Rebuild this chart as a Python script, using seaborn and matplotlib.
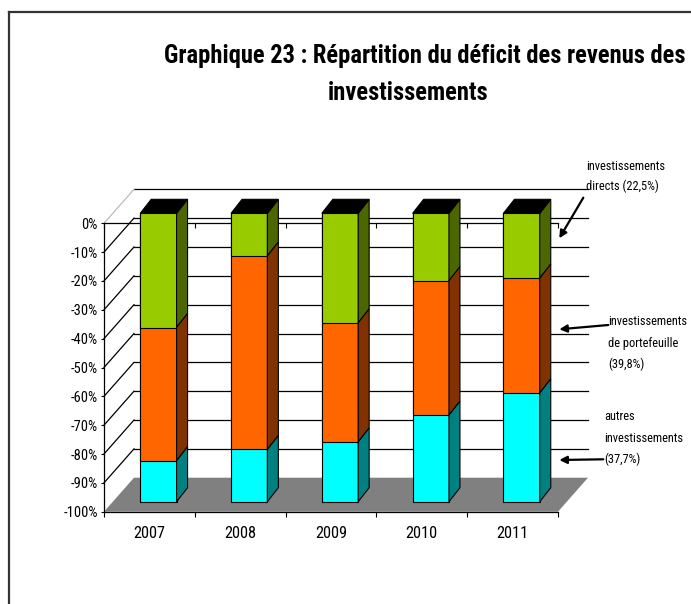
import numpy as np
import pandas as pd
import matplotlib
matplotlib.use('Agg')
import matplotlib.pyplot as plt
import seaborn as sns
from matplotlib import font_manager
from matplotlib.lines import Line2D, TICKDOWN
from matplotlib.patches import Polygon
from matplotlib.transforms import ScaledTranslation, IdentityTransform

# data (shares of the deficit, %)
years = ['2007', '2008', '2009', '2010', '2011']
directs = [39.6, 14.8, 38.0, 23.4, 22.5]
portefeuille = [46.2, 67.1, 41.3, 46.6, 39.8]
autres = [14.2, 18.1, 20.7, 30.0, 37.7]
yticks = list(range(-100, 1, 10))

title_lines = ['Graphique 23 : Répartition du déficit des revenus des', 'investissements']
notes = [
    ['investissements', 'directs (22,5%)'],
    ['investissements', 'de portefeuille', '(39,8%)'],
    ['autres', 'investissements', '(37,7%)'],
]

# pick a narrow sans font (Arial Narrow look) that has a static bold face
prefs = ['Liberation Sans Narrow', 'Arial Narrow', 'Nimbus Sans Narrow', 'Roboto Condensed',
         'Open Sans Condensed', 'PT Sans Narrow', 'Asap Condensed',
         'Barlow Semi Condensed', 'Archivo Narrow']
fonts = font_manager.fontManager.ttflist
font = 'Liberation Sans'
for name in prefs:
    faces = [f for f in fonts if f.name == name and '[' not in f.fname and f.style == 'normal']
    weights = {int(f.weight) if str(f.weight).isdigit() else 400 for f in faces}
    if faces and any(w >= 700 for w in weights) and any(w <= 400 for w in weights):
        font = name
        break
plt.rcParams['font.family'] = [font, 'DejaVu Sans']

W, H = 691, 604
fig = plt.figure(figsize=(W / 100, H / 100), dpi=100)
ax = fig.add_axes([104 / W, 1 - 511.7 / H, 454 / W, 288.4 / H])
renderer = fig.canvas.get_renderer()


def fit_size(s, target, weight='normal'):
    t = fig.text(0, 0, s, fontsize=10, fontweight=weight)
    w = t.get_window_extent(renderer).width
    t.remove()
    return 10 * target / w


def fx(x):
    return x / W


def fy(y):
    return 1 - y / H


green, green_side = '#99CC00', '#4C6600'
orange, orange_side = '#FF6600', '#803300'
cyan, cyan_side = '#00FFFF', '#008080'

d = np.array(directs)
p = np.array(portefeuille)
a = np.array(autres)
levels = [(-(d + p + a), cyan), (-(d + p), orange), (-d, green)]

for vals, col in levels:
    sns.barplot(x=years, y=vals, color=col, width=0.4, saturation=1,
                edgecolor='black', linewidth=0.8, errorbar=None, ax=ax)

ax.set_xlim(-0.5, 4.5)
ax.set_ylim(-100, 0)
ax.autoscale(False)
ax.set_xlabel('')
ax.set_ylabel('')

BF = np.array([9, 10])    # bar front offset (px)
BD = np.array([11, 14])   # bar depth (px)
WD = np.array([30, 34])   # wall depth (px)

off = ScaledTranslation(BF[0] / 100, BF[1] / 100, fig.dpi_scale_trans)
for patch in ax.patches:
    patch.set_transform(ax.transData + off)
    patch.set_clip_on(False)
    patch.set_zorder(3)


def px(x, y, *shifts):
    pt = ax.transData.transform((x, y))
    for s in shifts:
        pt = pt + s
    return pt


def add_poly(pts, fc, z):
    ax.add_patch(Polygon(pts, closed=True, facecolor=fc, edgecolor='black',
                         linewidth=0.8, transform=IdentityTransform(),
                         clip_on=False, zorder=z))


def add_line(p0, p1, col='black', lw=0.9, z=1.5):
    ax.add_line(Line2D([p0[0], p1[0]], [p0[1], p1[1]], color=col, lw=lw,
                       transform=IdentityTransform(), clip_on=False, zorder=z))


# floor
ax.add_patch(Polygon([px(-0.5, -100), px(4.5, -100), px(4.5, -100, WD), px(-0.5, -100, WD)],
                     closed=True, facecolor='#808080', edgecolor='none',
                     transform=IdentityTransform(), clip_on=False, zorder=1))

# back wall gridlines and side wall diagonals
for v in yticks[1:]:
    add_line(px(-0.5, v, WD), px(4.5, v, WD))
    add_line(px(-0.5, v), px(-0.5, v, WD), col='#BBBBBB' if v == 0 else 'black')

# side and top faces of the bars
hw = 0.2
for i in range(len(years)):
    segs = [(0, -d[i], green_side), (-d[i], -(d[i] + p[i]), orange_side),
            (-(d[i] + p[i]), -(d[i] + p[i] + a[i]), cyan_side)]
    for top, bot, col in segs:
        add_poly([px(i + hw, top, BF), px(i + hw, bot, BF),
                  px(i + hw, bot, BF, BD), px(i + hw, top, BF, BD)], col, 3)
    add_poly([px(i - hw, 0, BF), px(i + hw, 0, BF),
              px(i + hw, 0, BF, BD), px(i - hw, 0, BF, BD)], 'black', 3)

# axes styling
ax.spines['right'].set_visible(False)
for s in ['left', 'top', 'bottom']:
    ax.spines[s].set_linewidth(0.9)
ax.set_yticks(yticks)
ax.set_yticklabels([f'{v}%' for v in yticks], fontsize=fit_size('-100%', 34))
ax.tick_params(axis='y', length=2.5, width=0.8, pad=2)
ax.set_xticks(range(len(years)))
ax.set_xticklabels(years, fontsize=fit_size('2007', 32))
ax.tick_params(axis='x', which='major', length=0, pad=10)
ax.set_xticks(np.arange(-0.5, 5, 1), minor=True)
ax.tick_params(axis='x', which='minor', length=3.6, width=0.8, direction='out')
ax.plot(np.arange(-0.5, 5, 1), np.zeros(6), ls='none', marker=TICKDOWN,
        ms=3.6, mew=0.8, color='black', clip_on=False, zorder=2.5)

# title (both lines at the same size)
title_size = fit_size(title_lines[0], 523, 'bold')
fig.text(fx(425), fy(63.3), title_lines[0], ha='center', va='baseline',
         fontweight='bold', fontsize=title_size)
fig.text(fx(408), fy(100), title_lines[1], ha='center', va='baseline',
         fontweight='bold', fontsize=title_size)

# annotations
note_size = fit_size('investissements', 79)
note_pos = [(586, [170, 190.5]), (608, [325, 346.5, 368]), (604, [420, 441.5, 463])]
for lines, (x0, ys) in zip(notes, note_pos):
    for s, yy in zip(lines, ys):
        fig.text(fx(x0), fy(yy), s, ha='left', va='baseline', fontsize=note_size)

arrows = [((583.3, 197.7), (559.3, 238.3)),
          ((608.3, 325), (559.3, 329.3)),
          ((603.3, 459.3), (559.3, 460))]
for tail, head in arrows:
    ax.annotate('', xy=(fx(head[0]), fy(head[1])), xycoords='figure fraction',
                xytext=(fx(tail[0]), fy(tail[1])), textcoords='figure fraction',
                arrowprops=dict(arrowstyle='-|>', color='black', lw=1.6,
                                mutation_scale=11, shrinkA=0, shrinkB=0),
                annotation_clip=False)

# outer frame (left and top edges)
fig.add_artist(Line2D([fx(9), fx(9)], [0, fy(11.5)], color='#333333', lw=1.6))
fig.add_artist(Line2D([fx(9), 1], [fy(11.5), fy(11.5)], color='#333333', lw=1.6))

fig.savefig('out.png', dpi=100)
